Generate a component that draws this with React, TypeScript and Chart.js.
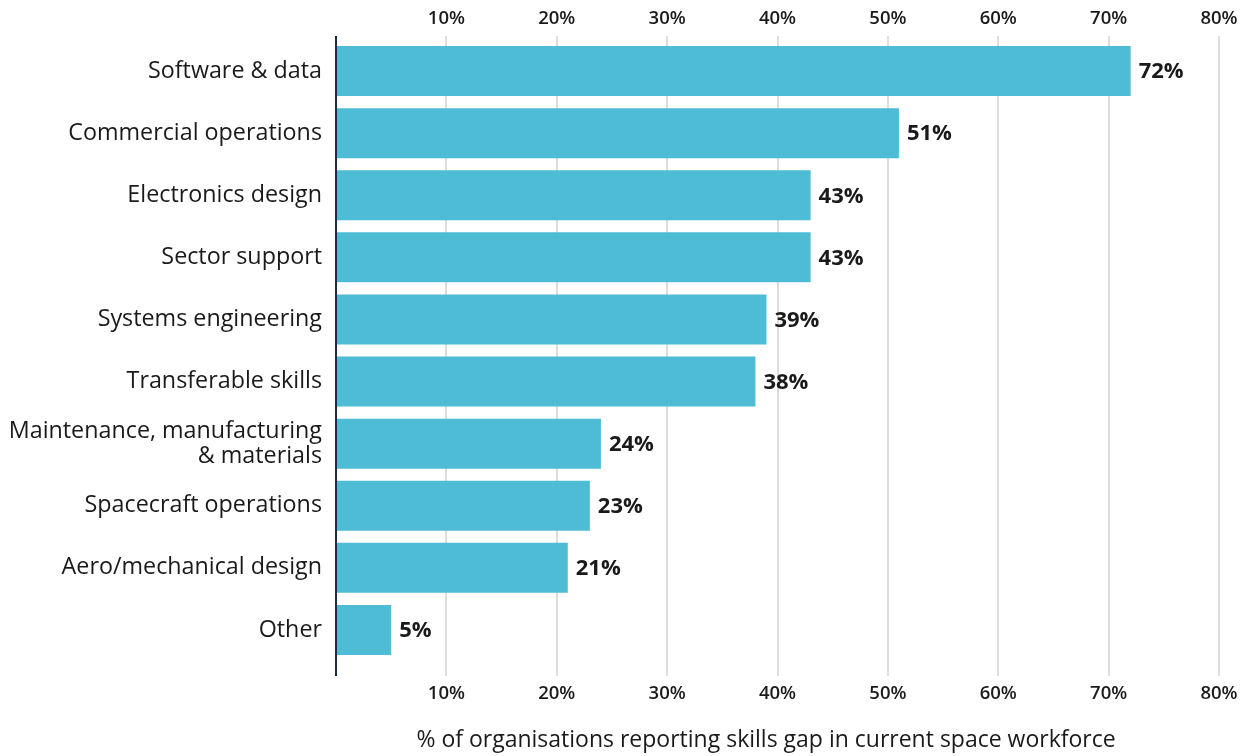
import React, { useEffect, useRef } from "react";
import { Chart, registerables } from "chart.js";

Chart.register(...registerables);

const categories: (string | string[])[] = [
  "Software & data",
  "Commercial operations",
  "Electronics design",
  "Sector support",
  "Systems engineering",
  "Transferable skills",
  ["Maintenance, manufacturing", "& materials"],
  "Spacecraft operations",
  "Aero/mechanical design",
  "Other",
];
const values: number[] = [72, 51, 43, 43, 39, 38, 24, 23, 21, 5];
const tickValues: number[] = [10, 20, 30, 40, 50, 60, 70, 80];
const axisTitle = "% of organisations reporting skills gap in current space workforce";

const BAR = "#4DBCD4";
const GRID = "#dcdcdc";
const TEXT = "#1a1a1a";
const AXIS = "#1c2b45";
const FONT = "'Open Sans', sans-serif";

export default function App() {
  const ref = useRef<HTMLCanvasElement | null>(null);
  useEffect(() => {
    document.body.style.margin = "0";
    const ctx = ref.current!.getContext("2d")!;

    const valueLabels = {
      id: "valueLabels",
      afterDatasetsDraw(chart: any) {
        const c = chart.ctx;
        const meta = chart.getDatasetMeta(0);
        c.save();
        c.font = `bold 22px ${FONT}`;
        c.fillStyle = TEXT;
        c.textAlign = "left";
        c.textBaseline = "middle";
        meta.data.forEach((el: any, i: number) => {
          c.fillText(`${values[i]}%`, el.x + 8, el.y + 1);
        });
        c.restore();
      },
    };
    const extras = {
      id: "extras",
      afterDraw(chart: any) {
        const c = chart.ctx;
        const a = chart.chartArea;
        c.save();
        c.strokeStyle = AXIS;
        c.lineWidth = 2;
        c.beginPath();
        c.moveTo(a.left, a.top - 4);
        c.lineTo(a.left, a.bottom + 15);
        c.stroke();
        c.font = `23px ${FONT}`;
        c.fillStyle = TEXT;
        c.textAlign = "center";
        c.textBaseline = "middle";
        c.fillText(axisTitle, a.left + (a.right - a.left) * 0.487, 740);
        c.restore();
      },
    };

    const tickCb = (v: any) => (tickValues.includes(Number(v)) ? `${v}%` : "");

    const chart = new Chart(ctx, {
      type: "bar",
      data: {
        labels: categories as any,
        datasets: [
          {
            data: values,
            backgroundColor: BAR,
            barPercentage: 0.805,
            categoryPercentage: 1,
          },
        ],
      },
      options: {
        indexAxis: "y",
        animation: false,
        responsive: false,
        maintainAspectRatio: false,
        layout: { padding: { left: 0, right: 28, top: 0, bottom: 0 } },
        plugins: { legend: { display: false }, tooltip: { enabled: false } },
        scales: {
          x: {
            position: "bottom",
            min: 0,
            max: 80,
            ticks: {
              stepSize: 10,
              callback: tickCb,
              color: TEXT,
              font: { family: FONT, size: 18.5, weight: "600" },
              padding: 7,
              maxRotation: 0,
            },
            grid: { color: GRID, lineWidth: 2, tickLength: 15, drawTicks: true },
            border: { display: false },
            afterFit: (s: any) => {
              s.height = 95;
            },
          },
          x2: {
            position: "top",
            min: 0,
            max: 80,
            ticks: {
              stepSize: 10,
              callback: tickCb,
              color: TEXT,
              font: { family: FONT, size: 18.5, weight: "600" },
              padding: 6,
              maxRotation: 0,
            },
            grid: { color: GRID, lineWidth: 2, tickLength: 4, drawOnChartArea: false },
            border: { display: false },
            afterFit: (s: any) => {
              s.height = 40;
            },
          },
          y: {
            ticks: {
              color: TEXT,
              font: { family: FONT, size: 23.3, lineHeight: 1.05 },
              padding: 6,
            },
            grid: { display: false },
            border: { display: false },
            afterFit: (s: any) => {
              s.width = 336;
            },
          },
        },
      },
      plugins: [valueLabels, extras],
    });
    return () => chart.destroy();
  }, []);

  return (
    <div style={{ width: 1247, height: 756, overflow: "hidden" }}>
      <canvas ref={ref} width={1247} height={756} style={{ display: "block" }} />
    </div>
  );
}
